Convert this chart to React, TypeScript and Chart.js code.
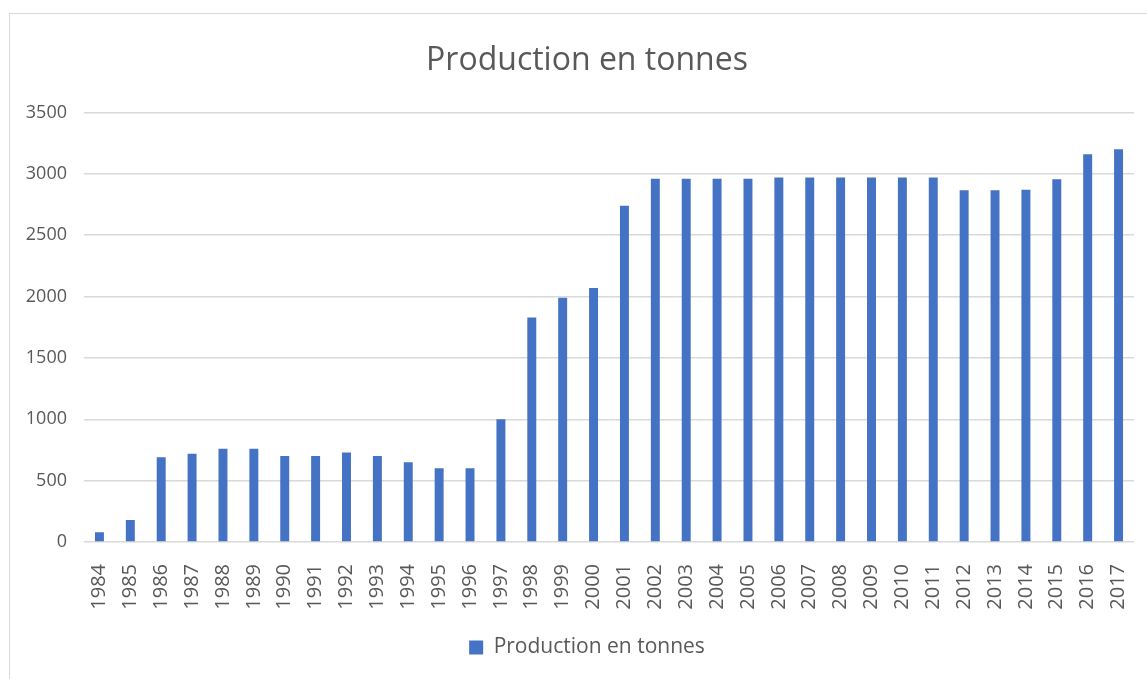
import React, { useEffect, useRef } from "react";
import { Chart, registerables } from "chart.js";

Chart.register(...registerables);

const years: string[] = [
  "1984", "1985", "1986", "1987", "1988", "1989", "1990", "1991", "1992", "1993",
  "1994", "1995", "1996", "1997", "1998", "1999", "2000", "2001", "2002", "2003",
  "2004", "2005", "2006", "2007", "2008", "2009", "2010", "2011", "2012", "2013",
  "2014", "2015", "2016", "2017",
];

const production: number[] = [
  80, 180, 690, 720, 760, 760, 700, 700, 730, 700,
  650, 600, 600, 1000, 1830, 1990, 2070, 2740, 2960, 2960,
  2960, 2960, 2970, 2970, 2970, 2970, 2970, 2970, 2865, 2865,
  2870, 2955, 3160, 3200,
];

const seriesLabel = "Production en tonnes";
const chartTitle = "Production en tonnes";

const TEXT = "#595959";
const GRID = "#d9d9d9";
const BAR = "#4472C4";
const FONT = "'Open Sans', 'Noto Sans', sans-serif";

const CANVAS_W = 1174;
const CANVAS_H = 679;

export default function App() {
  const ref = useRef<HTMLCanvasElement | null>(null);

  useEffect(() => {
    if (!ref.current) return;
    const chart = new Chart(ref.current, {
      type: "bar",
      data: {
        labels: years,
        datasets: [
          {
            label: seriesLabel,
            data: production,
            backgroundColor: BAR,
            borderWidth: 0,
            barPercentage: 0.29,
            categoryPercentage: 1,
          },
        ],
      },
      options: {
        animation: false,
        responsive: false,
        maintainAspectRatio: false,
        layout: { padding: { left: 0, right: 0, top: 0, bottom: 11 } },
        plugins: {
          title: {
            display: true,
            text: chartTitle,
            color: TEXT,
            font: { family: FONT, size: 32, weight: "normal" },
            padding: { top: 42, bottom: 32 },
          },
          legend: {
            position: "bottom",
            labels: {
              color: TEXT,
              font: { family: FONT, size: 21 },
              boxWidth: 14,
              boxHeight: 14,
              padding: 10,
            },
          },
          tooltip: { enabled: false },
        },
        scales: {
          x: {
            grid: { display: false },
            border: { display: false },
            ticks: {
              color: TEXT,
              font: { family: FONT, size: 20 },
              minRotation: 90,
              maxRotation: 90,
              autoSkip: false,
              padding: 14,
            },
            afterFit: (scale: any) => {
              scale.height = 85;
              scale.paddingLeft = 0;
              scale.paddingRight = 40;
            },
          },
          y: {
            min: 0,
            max: 3500,
            grid: { color: GRID, lineWidth: 1.5, drawTicks: false },
            border: { display: false },
            ticks: {
              stepSize: 500,
              color: TEXT,
              font: { family: FONT, size: 18 },
              padding: 17,
              callback: (v: any) => String(v),
            },
            afterFit: (scale: any) => {
              scale.width = 84;
            },
          },
        },
      },
    });
    return () => chart.destroy();
  }, []);

  return (
    <div
      style={{
        position: "absolute",
        left: 0,
        top: 0,
        width: 1147,
        height: 679,
        overflow: "hidden",
        background: "#fff",
      }}
    >
      <div
        style={{
          position: "absolute",
          left: 9,
          top: 13,
          width: 1200,
          height: 700,
          border: `1px solid ${GRID}`,
        }}
      />
      <canvas
        ref={ref}
        width={CANVAS_W}
        height={CANVAS_H}
        style={{ position: "absolute", left: 0, top: 0, width: CANVAS_W, height: CANVAS_H }}
      />
    </div>
  );
}
